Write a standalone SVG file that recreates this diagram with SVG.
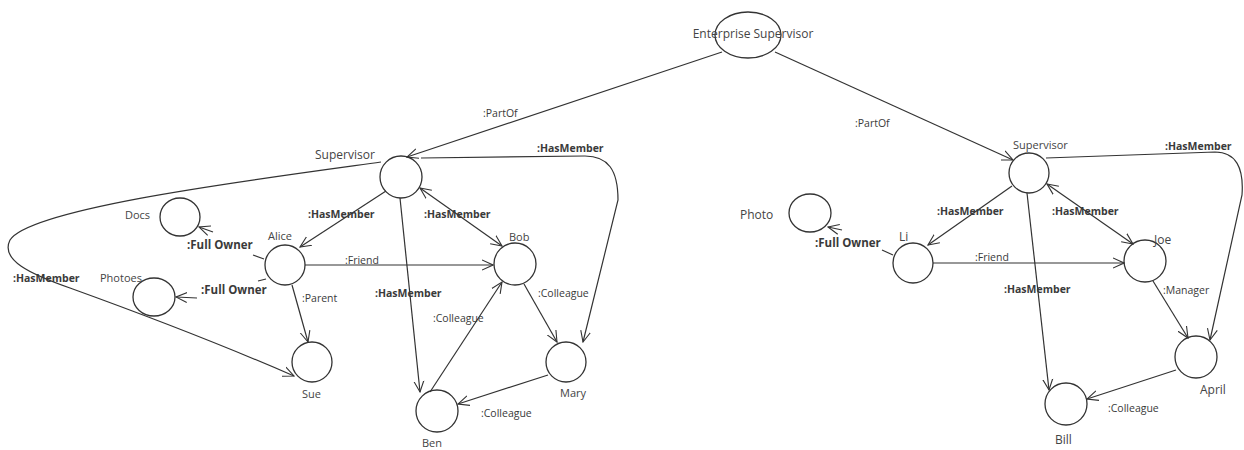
<svg xmlns="http://www.w3.org/2000/svg" width="1244" height="450" viewBox="0 0 1244 450">
  <style>
    .node { fill: none; stroke: #333; stroke-width: 1.3; }
    .edge { fill: none; stroke: #333; stroke-width: 1.2; }
    .name { font-family: "Open Sans", "Noto Sans", sans-serif; font-size: 11px; fill: #444; }
    .big { font-size: 12px; }
    .lbl { font-family: "Open Sans", "Noto Sans", sans-serif; font-size: 10.5px; fill: #3a3a3a; }
    .b { font-weight: bold; }
    .fo { font-size: 11.5px; }
  </style>
  <defs>
    <marker id="arr" viewBox="0 0 12 12" refX="11" refY="6" markerWidth="12" markerHeight="12" markerUnits="userSpaceOnUse" orient="auto">
      <path d="M0,1 L11,6 L0,11" fill="none" stroke="#333" stroke-width="1.1"/>
    </marker>
    <marker id="arrS" viewBox="0 0 12 12" refX="1" refY="6" markerWidth="12" markerHeight="12" markerUnits="userSpaceOnUse" orient="auto">
      <path d="M12,1 L1,6 L12,11" fill="none" stroke="#333" stroke-width="1.1"/>
    </marker>
  </defs>

  <rect width="1244" height="450" fill="#fff"/>

  <!-- connectors -->
  <g id="connectors">
    <!-- PartOf -->
    <path class="edge" d="M722,52 L407,157" marker-end="url(#arr)"/>
    <path class="edge" d="M775,52 L1013,160" marker-end="url(#arr)"/>

    <!-- left team -->
    <path class="edge" d="M386,191 L300,247" marker-end="url(#arr)"/>
    <path class="edge" d="M420,188 L502,246" marker-start="url(#arrS)" marker-end="url(#arr)"/>
    <path class="edge" d="M400,198 L420,392" marker-end="url(#arr)"/>
    <path class="edge" d="M421,158 L585,156 C608,156 618,170 618,200 L583,342" marker-end="url(#arr)"/>
    <path class="edge" d="M381,162 C250,180 30,208 10,240 C0,260 30,274 70,288 Q200,335 294,376" marker-end="url(#arr)"/>
    <path class="edge" d="M305,265 L493,265" marker-end="url(#arr)"/>
    <path class="edge" d="M292,285 L308,342" marker-end="url(#arr)"/>
    <path class="edge" d="M524,284 L557,342" marker-end="url(#arr)"/>
    <path class="edge" d="M430,392 L502,282" marker-end="url(#arr)"/>
    <path class="edge" d="M548,375 L458,404" marker-end="url(#arr)"/>
    <!-- Full Owner (left) -->
    <path class="edge" d="M264,259 L253,255"/>
    <path class="edge" d="M213,232 L199,227" marker-end="url(#arr)"/>
    <path class="edge" d="M266,279 L258,281"/>
    <path class="edge" d="M197,298 L176,297" marker-end="url(#arr)"/>

    <!-- right team -->
    <path class="edge" d="M1012,186 L928,245" marker-end="url(#arr)"/>
    <path class="edge" d="M1047,184 L1133,244" marker-start="url(#arrS)" marker-end="url(#arr)"/>
    <path class="edge" d="M1027,193 L1049,390" marker-end="url(#arr)"/>
    <path class="edge" d="M1046,158 L1215,152 C1236,152 1244,168 1242,195 L1210,340" marker-end="url(#arr)"/>
    <path class="edge" d="M933,263 L1124,263" marker-end="url(#arr)"/>
    <path class="edge" d="M1153,281 L1188,338" marker-end="url(#arr)"/>
    <path class="edge" d="M1176,370 L1087,399" marker-end="url(#arr)"/>
    <!-- Full Owner (right) -->
    <path class="edge" d="M893,255 L882,250"/>
    <path class="edge" d="M842,230 L828,227" marker-end="url(#arr)"/>

    <!-- connector labels -->
    <text class="lbl" x="483" y="117" font-size="11.5">:PartOf</text>
    <text class="lbl" x="855" y="127" font-size="11.5">:PartOf</text>
    <text class="lbl b" x="308" y="218">:HasMember</text>
    <text class="lbl b" x="424" y="218">:HasMember</text>
    <text class="lbl b" x="375" y="297">:HasMember</text>
    <text class="lbl b" x="537" y="152">:HasMember</text>
    <text class="lbl b" x="13" y="282">:HasMember</text>
    <text class="lbl" x="345" y="264">:Friend</text>
    <text class="lbl" x="302" y="302">:Parent</text>
    <text class="lbl" x="538" y="297">:Colleague</text>
    <text class="lbl" x="433" y="322">:Colleague</text>
    <text class="lbl" x="481" y="417">:Colleague</text>
    <text class="lbl b fo" x="187" y="249">:Full  Owner</text>
    <text class="lbl b fo" x="201" y="294">:Full  Owner</text>

    <text class="lbl b" x="937" y="215">:HasMember</text>
    <text class="lbl b" x="1052" y="215">:HasMember</text>
    <text class="lbl b" x="1004" y="293">:HasMember</text>
    <text class="lbl b" x="1165" y="150">:HasMember</text>
    <text class="lbl" x="975" y="261">:Friend</text>
    <text class="lbl" x="1163" y="294">:Manager</text>
    <text class="lbl" x="1108" y="412">:Colleague</text>
    <text class="lbl b fo" x="815" y="247">:Full  Owner</text>
  </g>

  <!-- nodes -->
  <g id="enterprise-supervisor">
    <ellipse class="node" cx="748" cy="35" rx="33" ry="23"/>
    <text class="name big" x="753" y="38" text-anchor="middle">Enterprise Supervisor</text>
  </g>

  <g id="supervisor-left">
    <circle class="node" cx="401" cy="177" r="21"/>
    <text class="name big" x="315" y="159">Supervisor</text>
  </g>
  <g id="docs">
    <ellipse class="node" cx="180" cy="217" rx="20" ry="19"/>
    <text class="name" x="125" y="219">Docs</text>
  </g>
  <g id="photoes">
    <ellipse class="node" cx="154" cy="297" rx="21" ry="19"/>
    <text class="name" x="100" y="282">Photoes</text>
  </g>
  <g id="alice">
    <circle class="node" cx="285" cy="265" r="20"/>
    <text class="name" x="268" y="240">Alice</text>
  </g>
  <g id="bob">
    <circle class="node" cx="515" cy="264" r="21"/>
    <text class="name" x="509" y="241">Bob</text>
  </g>
  <g id="sue">
    <circle class="node" cx="312" cy="362" r="20"/>
    <text class="name" x="302" y="398">Sue</text>
  </g>
  <g id="mary">
    <circle class="node" cx="566" cy="362" r="20"/>
    <text class="name" x="560" y="397">Mary</text>
  </g>
  <g id="ben">
    <circle class="node" cx="437" cy="411" r="21"/>
    <text class="name" x="422" y="447">Ben</text>
  </g>

  <g id="supervisor-right">
    <circle class="node" cx="1029" cy="173" r="20"/>
    <text class="name" x="1013" y="149" font-size="10.5">Supervisor</text>
  </g>
  <g id="photo">
    <ellipse class="node" cx="810" cy="213" rx="21" ry="19"/>
    <text class="name big" x="740" y="219">Photo</text>
  </g>
  <g id="li">
    <circle class="node" cx="913" cy="263" r="20"/>
    <text class="name big" x="899" y="241">Li</text>
  </g>
  <g id="joe">
    <circle class="node" cx="1145" cy="261" r="21"/>
    <text class="name big" x="1154" y="244">Joe</text>
  </g>
  <g id="april">
    <circle class="node" cx="1196" cy="357" r="21"/>
    <text class="name big" x="1200" y="394">April</text>
  </g>
  <g id="bill">
    <circle class="node" cx="1066" cy="404" r="21"/>
    <text class="name big" x="1055" y="444">Bill</text>
  </g>
</svg>
